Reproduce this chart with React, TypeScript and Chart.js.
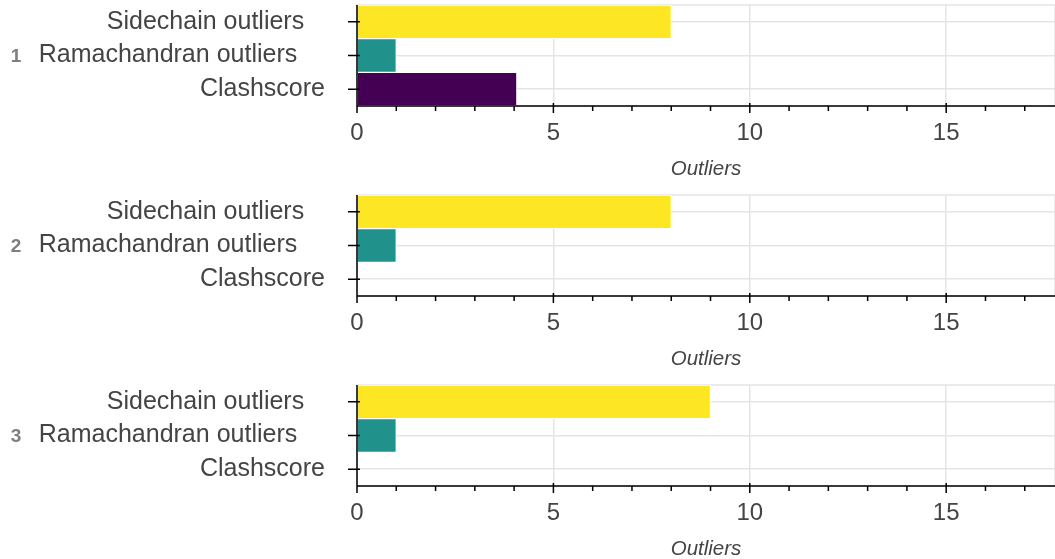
import React, { useEffect, useRef } from 'react';
import { Chart, registerables } from 'chart.js';

Chart.register(...registerables);

// ---- data ----
const categories = ['Sidechain outliers', 'Ramachandran outliers', 'Clashscore'];
const categoryLabels = ['Sidechain outliers   ', 'Ramachandran outliers    ', 'Clashscore'];
const groups = ['1', '2', '3'];
const model1Values = [8, 1, 4.07];
const model2Values = [8, 1, 0];
const model3Values = [9, 1, 0];
const barColors = ['#fde725', '#21918c', '#440154'];
const xMin = 0;
const xMax = 17.77;
const majorStep = 5;
const axisTitle = 'Outliers';

const FONT = "'Liberation Sans', Arial, Helvetica, sans-serif";
const TEXT = '#444444';
const GRID = '#e5e5e5';

const axesPlugin = {
  id: 'bokehAxes',
  beforeDatasetsDraw(chart: any) {
    const { ctx, chartArea: a } = chart;
    ctx.save();
    ctx.strokeStyle = GRID;
    ctx.lineWidth = 1.5;
    ctx.strokeRect(a.left, a.top, a.right - a.left, a.bottom - a.top);
    ctx.restore();
  },
  afterDatasetsDraw(chart: any) {
    const { ctx, chartArea: a, scales } = chart;
    const xs = scales.x;
    const ys = scales.y;
    ctx.save();
    ctx.strokeStyle = '#000';
    ctx.lineWidth = 1.5;
    ctx.beginPath();
    ctx.moveTo(a.left, a.top);
    ctx.lineTo(a.left, a.bottom);
    ctx.moveTo(a.left, a.bottom);
    ctx.lineTo(a.right, a.bottom);
    ys.ticks.forEach((_t: any, i: number) => {
      const py = ys.getPixelForTick(i);
      ctx.moveTo(a.left - 9, py);
      ctx.lineTo(a.left + 3, py);
    });
    xs.ticks.forEach((t: any) => {
      const px = xs.getPixelForValue(t.value);
      const major = Math.abs(t.value % majorStep) < 1e-9;
      ctx.moveTo(px, a.bottom - (major ? 3 : 0));
      ctx.lineTo(px, a.bottom + (major ? 7 : 5));
    });
    ctx.stroke();
    ctx.restore();
  },
  afterDraw(chart: any, _args: any, opts: any) {
    const { ctx, chartArea: a } = chart;
    ctx.save();
    ctx.fillStyle = '#7f7f7f';
    ctx.font = `bold 19px ${FONT}`;
    ctx.textAlign = 'center';
    ctx.textBaseline = 'middle';
    ctx.fillText(opts.group, 16, (a.top + a.bottom) / 2 + 1.5);
    ctx.restore();
  },
};

function Panel({ group, values }: { group: string; values: number[] }) {
  const ref = useRef<HTMLCanvasElement>(null);
  useEffect(() => {
    if (!ref.current) return;
    const chart = new Chart(ref.current, {
      type: 'bar',
      data: {
        labels: categories,
        datasets: [
          {
            data: values,
            backgroundColor: barColors,
            borderColor: '#ffffff',
            borderWidth: 1,
            barPercentage: 1,
            categoryPercentage: 1,
          },
        ],
      },
      plugins: [axesPlugin],
      options: {
        indexAxis: 'y',
        responsive: false,
        animation: false,
        layout: { padding: { top: 5, left: 0, right: 0, bottom: 0 } },
        plugins: {
          legend: { display: false },
          tooltip: { enabled: false },
          bokehAxes: { group },
        } as any,
        scales: {
          x: {
            type: 'linear',
            position: 'bottom',
            min: xMin,
            max: xMax,
            afterFit: (s: any) => {
              s.height = 84;
              s.paddingLeft = 0;
              s.paddingRight = 0;
            },
            border: { display: false },
            grid: {
              drawTicks: false,
              lineWidth: 1.5,
              color: (c: any) => {
                const v = c.tick ? c.tick.value : 0;
                return v !== 0 && Math.abs(v % majorStep) < 1e-9 ? GRID : 'rgba(0,0,0,0)';
              },
            },
            ticks: {
              stepSize: 1,
              includeBounds: false,
              autoSkip: false,
              maxRotation: 0,
              padding: 13,
              color: TEXT,
              font: { family: FONT, size: 24 },
              callback: (v: any) => (Math.abs(Number(v) % majorStep) < 1e-9 ? String(v) : ''),
            },
            title: {
              display: true,
              text: axisTitle,
              color: TEXT,
              font: { family: FONT, size: 20.5, style: 'italic' },
              padding: { top: 0, bottom: 8.5 },
            },
          },
          y: {
            type: 'category',
            position: 'left',
            afterFit: (s: any) => {
              s.width = 357;
              s.paddingTop = 0;
              s.paddingBottom = 0;
            },
            border: { display: false },
            grid: {
              offset: false,
              drawTicks: false,
              color: GRID,
              lineWidth: 1.5,
            },
            ticks: {
              autoSkip: false,
              padding: 32,
              color: TEXT,
              font: { family: FONT, size: 25 },
              callback: (_v: any, i: number) => categoryLabels[i],
            },
          },
        },
      } as any,
    });
    return () => chart.destroy();
  }, [group, values]);
  return (
    <div style={{ width: 1055, height: 190 }}>
      <canvas ref={ref} width={1055} height={190} style={{ display: 'block', width: 1055, height: 190 }} />
    </div>
  );
}

export default function App() {
  const panels = [model1Values, model2Values, model3Values];
  return (
    <div
      style={{
        position: 'fixed',
        left: 0,
        top: 0,
        width: 1055,
        height: 559,
        overflow: 'hidden',
        background: '#ffffff',
      }}
    >
      {panels.map((vals, i) => (
        <Panel key={groups[i]} group={groups[i]} values={vals} />
      ))}
    </div>
  );
}
